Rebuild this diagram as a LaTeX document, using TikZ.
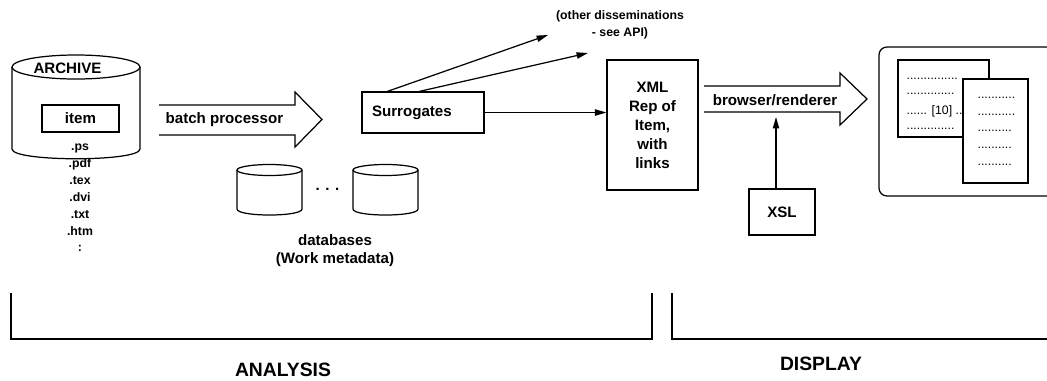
\documentclass[tikz,border=0pt]{standalone}
\usepackage{fontspec}
\setmainfont{Liberation Sans}
\usetikzlibrary{arrows.meta,positioning}

\tikzset{
  box/.style={draw,font=\bfseries\fontsize{8.6}{10.8}\selectfont,align=center,inner sep=0pt},
  arr/.style={-{Triangle[length=6.5pt,width=3.6pt]}},
  lbl/.style={font=\bfseries\fontsize{8.6}{10.3}\selectfont,align=center,inner sep=0pt},
  small/.style={font=\bfseries\fontsize{7}{9.6}\selectfont,align=center,inner sep=0pt},
  dots/.style={font=\fontsize{7}{8}\selectfont,anchor=west,inner sep=0pt},
  big/.style={font=\bfseries\fontsize{11}{13}\selectfont,inner sep=0pt}
}

\begin{document}
\begin{tikzpicture}[x=0.02cm,y=-0.02cm,line width=0.7pt]
\useasboundingbox (0,0) rectangle (1047,380);
% archive
\draw (12,67) -- (12,149) .. controls (12,162) and (140,162) .. (140,149) -- (140,67);
\draw (76,67) ellipse [x radius=64,y radius=12];
\node[lbl] (arch) at (67.5,68) {ARCHIVE};
\node[box,minimum width=1.54cm,minimum height=0.54cm] (item) at (80.5,118.5) {item};
\node[small] (ext) at (80,198) {.ps\\.pdf\\.tex\\.dvi\\.txt\\.htm\\:};
% batch processor
\draw (159,105) -- (295,105) -- (295,92) -- (322,119.5) -- (295,147) -- (295,135) -- (159,135);
\node[lbl,anchor=west] (batch) at (165,120) {batch processor};
% databases
\foreach \cx in {269.5,385.5} {
  \draw (\cx-32.5,170) -- (\cx-32.5,209) .. controls (\cx-32.5,217) and (\cx+32.5,217) .. (\cx+32.5,209) -- (\cx+32.5,170);
  \draw (\cx,170) ellipse [x radius=32.5,y radius=5.5];
}
\node[lbl] (more) at (327.5,189) {. . .};
\node[lbl] (dbs) at (335,251) {databases\\(Work metadata)};
% surrogates and xml
\node[box,minimum width=2.44cm,minimum height=0.82cm,text width=2.04cm,align=left,inner xsep=0.2cm] (surr) at (423,112.5) {Surrogates};
\node[box,minimum width=1.82cm,minimum height=2.6cm] (xml) at (652.5,125) {XML\\Rep of\\Item,\\with\\links};
\node[small] (other) at (620,25) {(other disseminations\\- see API)};
\coordinate (d1) at (548,35);
\coordinate (d2) at (588,53);
\draw[arr] ([xshift=0.52cm]surr.north west) -- (d1);
\draw[arr] ([xshift=1.16cm]surr.north west) -- (d2);
\draw[arr] (surr.east) -- (surr.east -| xml.west);
% browser/renderer
\draw (704,86) -- (840,86) -- (840,73) -- (867,99) -- (840,125) -- (840,112) -- (704,112);
\node[lbl] (rend) at (775,100) {browser/renderer};
\node[box,minimum width=1.32cm,minimum height=0.92cm] (xsl) at (782,212) {XSL};
\coordinate (rtip) at (776,117);
\draw[arr] (xsl.north -| rtip) -- (rtip);
% display
\draw[rounded corners=4.5pt] (1050,47) -- (879,47) -- (879,196) -- (1050,196);
\node[draw,fill=white,minimum width=1.82cm,minimum height=1.54cm,inner sep=0pt] (page1) at (943.5,98.5) {};
\node[dots] at (906,79) {...............};
\node[dots] at (906,94) {..............};
\node[dots] at (906,111) {...... [10] ...};
\node[dots] at (906,129) {..............};
\node[draw,fill=white,minimum width=1.3cm,minimum height=2.08cm,inner sep=0pt] (page2) at (995.5,131) {};
\node[dots] at (977,98) {...........};
\node[dots] at (977,115) {...........};
\node[dots] at (977,131) {..........};
\node[dots] at (977,148) {..........};
\node[dots] at (977,165) {..........};
% brackets
\draw (11,293) -- (11,339) -- (652,339) -- (652,293);
\draw (672,293) -- (672,339) -- (1050,339);
\node[big] (ana) at (283,370) {ANALYSIS};
\node[big] (disp) at (821,364) {DISPLAY};
\end{tikzpicture}
\end{document}
